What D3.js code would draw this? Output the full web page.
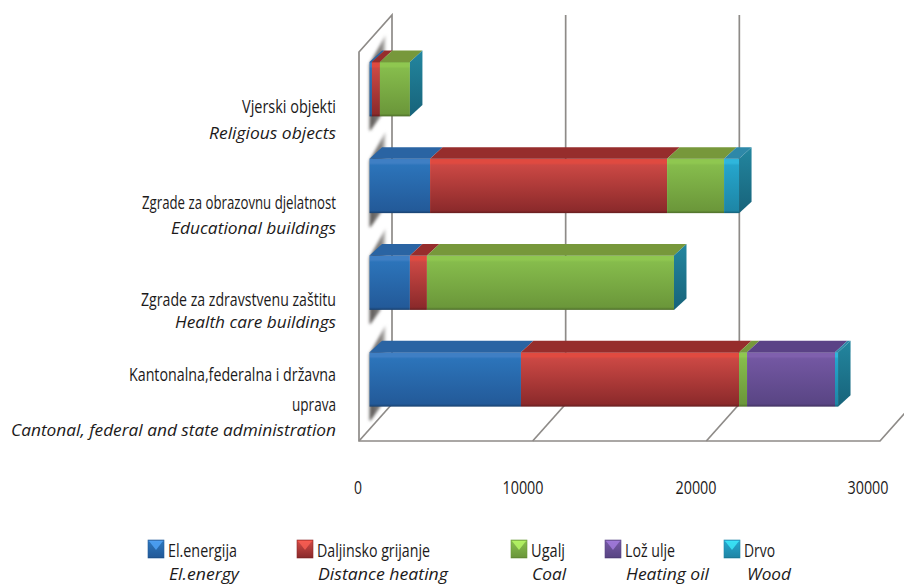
<!DOCTYPE html>
<html><head><meta charset="utf-8">
<script src="https://cdn.jsdelivr.net/npm/d3@7/dist/d3.min.js"></script>
<style>
html,body{margin:0;padding:0;background:#fff}
svg{display:block}
text{font-family:"Open Sans",sans-serif;fill:#1c1a1a}
</style></head><body>
<svg id="c" width="904" height="585"></svg>
<script>
// ---- data ----
const categories = ["Vjerski objekti","Zgrade za obrazovnu djelatnost","Zgrade za zdravstvenu zaštitu","Kantonalna,federalna i državna uprava"];
const elEnergija = [140, 3490, 2330, 8730];
const daljinsko  = [460, 13660, 980, 12570];
const ugalj      = [1730, 3285, 14240, 460];
const lozUlje    = [0, 0, 0, 5070];
const drvo       = [0, 865, 0, 175];
const seriesKeys = ["El.energija","Daljinsko grijanje","Ugalj","Lož ulje","Drvo"];
const seriesEn   = ["El.energy","Distance heating","Coal","Heating oil","Wood"];
const tickValues = [0,10000,20000,30000];
const catLines = [
  [["Vjerski objekti",0],["Religious objects",1]],
  [["Zgrade za obrazovnu djelatnost",0],["Educational buildings",1]],
  [["Zgrade za zdravstvenu zaštitu",0],["Health care buildings",1]],
  [["Kantonalna,federalna i državna",0],["uprava",0],["Cantonal, federal and state administration",1]]
];
// ---- styles ----
const faceColors = [["#3f7fc4","#2c74ba","#235a99"],["#e04a40","#cb4844","#8c2a2b"],["#8fc750","#86bc4c","#6b973a"],["#7f60ad","#7357a2","#594584"],["#2fb6dc","#25a5cc","#1e86a6"]];
const topColors  = ["#2a64a3","#962d2c","#77983b","#5a4286","#2e88a8"];
const sideTop = "#23869f", sideBot = "#17637a";
const gridColor = "#8e8b88";
const uprightSize = 18.5, italicSize = 16.5;

const svg = d3.select("#c");
const defs = svg.append("defs");
defs.append("filter").attr("id","blur").attr("filterUnits","userSpaceOnUse").attr("x",340).attr("y",0).attr("width",80).attr("height",470)
  .append("feGaussianBlur").attr("stdDeviation",1.6);
faceColors.forEach((c,i)=>{
  const g = defs.append("linearGradient").attr("id","f"+i).attr("x1",0).attr("x2",0).attr("y1",0).attr("y2",1);
  [[0,c[2]],[.015,c[0]],[.08,c[0]],[.12,c[1]],[.95,c[2]],[1,d3.color(c[2]).darker(.9)]].forEach(s=>g.append("stop").attr("offset",s[0]).attr("stop-color",s[1]));
});
const sg = defs.append("linearGradient").attr("id","side").attr("x1",0).attr("x2",0).attr("y1",0).attr("y2",1);
sg.append("stop").attr("offset",0).attr("stop-color",sideTop);
sg.append("stop").attr("offset",1).attr("stop-color",sideBot);
const shg = defs.append("linearGradient").attr("id","shade").attr("x1",0).attr("x2",1).attr("y1",0).attr("y2",0);
shg.append("stop").attr("offset",0).attr("stop-color","#5a5755").attr("stop-opacity",1);
shg.append("stop").attr("offset",.75).attr("stop-color","#7a7775").attr("stop-opacity",.9);
shg.append("stop").attr("offset",1).attr("stop-color","#a09e9c").attr("stop-opacity",.5);

// scales
const xBar   = d3.scaleLinear().domain([0,30000]).range([369.5,890]);
const xFront = d3.scaleLinear().domain([0,30000]).range([359,880]);
const xBack  = d3.scaleLinear().domain([0,30000]).range([392,913]);
const xLabel = d3.scaleLinear().domain(tickValues).range([358,523,696,868]);
const y = d3.scaleBand().domain(categories).range([40.8,427.8]).paddingInner(.4375).paddingOuter(.21875);
const floorY = 441, backFloorY = 404, wallTop = 15, frontTop = 52;
const depth = {dx:12.5, dy:11.5};

// bar shadows on the side wall
svg.append("g").attr("filter","url(#blur)").selectAll("path").data(categories).join("path")
  .attr("fill","url(#shade)")
  .attr("d",c=>{const t=y(c),b=t+y.bandwidth(),x=xBar(0);
    return `M${x},${t+2}L${x+16},${t-27}L${x+16},${t}L${x+11},${b}L${x+1},${b+14}L${x},${b+14}Z`;});

// walls / grid
const grid = svg.append("g").attr("fill","none").attr("stroke",gridColor).attr("stroke-width",1.7);
tickValues.slice(1,3).forEach(t=>{
  grid.append("line").attr("x1",xBack(t)).attr("x2",xBack(t)).attr("y1",wallTop).attr("y2",backFloorY);
});
tickValues.slice(0,3).forEach(t=>{
  grid.append("line").attr("x1",xFront(t)).attr("y1",floorY).attr("x2",xBack(t)).attr("y2",backFloorY);
});
grid.append("path").attr("stroke-linejoin","miter")
  .attr("d",`M${xBack(0)},${backFloorY}L${xBack(0)},${wallTop}L${xFront(0)},${frontTop}L${xFront(0)},${floorY}L${xFront(30000)},${floorY}L${xFront(30000)+33},${backFloorY}`);

// stacked data
const table = categories.map((c,i)=>({cat:c,[seriesKeys[0]]:elEnergija[i],[seriesKeys[1]]:daljinsko[i],[seriesKeys[2]]:ugalj[i],[seriesKeys[3]]:lozUlje[i],[seriesKeys[4]]:drvo[i]}));
const stacked = d3.stack().keys(seriesKeys)(table);

// bars
const bars = svg.append("g");
const poly = p=>"M"+p.map(q=>q.join(",")).join("L")+"Z";
stacked.forEach((s,si)=>{
  const g = bars.append("g");
  g.selectAll("path").data(s.filter(d=>d[1]>d[0])).join("path").attr("fill",topColors[si])
   .attr("d",d=>{const t=y(d.data.cat),a=xBar(d[0]),b=xBar(d[1]);
     return poly([[a,t],[a+depth.dx,t-depth.dy],[b+depth.dx,t-depth.dy],[b,t]]);});
});
stacked.forEach((s,si)=>{
  bars.append("g").selectAll("rect").data(s.filter(d=>d[1]>d[0])).join("rect").attr("fill",`url(#f${si})`)
   .attr("x",d=>xBar(d[0])).attr("width",d=>xBar(d[1])-xBar(d[0]))
   .attr("y",d=>y(d.data.cat)).attr("height",y.bandwidth());
});
bars.append("g").selectAll("path").data(stacked[4]).join("path").attr("fill","url(#side)")
  .attr("d",d=>{const t=y(d.data.cat),h=y.bandwidth(),b=xBar(d[1]);
    return poly([[b,t],[b+depth.dx,t-depth.dy],[b+depth.dx,t+h-depth.dy],[b,t+h]]);});

// axis labels
svg.append("g").selectAll("text").data(tickValues).join("text")
  .attr("x",d=>xLabel(d)).attr("y",494).attr("text-anchor","middle").attr("font-size",uprightSize)
  .attr("textLength",d=>d?41:8).attr("lengthAdjust","spacingAndGlyphs").text(d=>d);

// category labels
const lineY = [[113,139],[209,234],[306,328],[381,411,436]];
const lineW = [[94,127],[194,165],[195,161],[207,44,325]];
catLines.forEach((ls,i)=>ls.forEach((l,j)=>{
  svg.append("text").attr("x",336).attr("y",lineY[i][j]).attr("text-anchor","end")
    .attr("font-size",l[1]?italicSize:uprightSize).attr("font-style",l[1]?"italic":"normal")
    .attr("textLength",lineW[i][j]).attr("lengthAdjust","spacingAndGlyphs").text(l[0]);
}));

// legend
const swX = [148,297,511,605,724], txX=[168,317,531,625,744], enX=[169,318,532,626,747];
const kW=[69,113,34,50,31], eW=[70,130,34,83,44];
seriesKeys.forEach((k,i)=>{
  const g=svg.append("g");
  g.append("rect").attr("x",swX[i]).attr("y",540).attr("width",16).attr("height",18).attr("fill",`url(#f${i})`).attr("stroke",faceColors[i][2]).attr("stroke-width",.6);
  g.append("path").attr("d",poly([[swX[i]+1,541],[swX[i]+15,541],[swX[i]+8,550]])).attr("fill",d3.color(faceColors[i][0]).brighter(.8)).attr("opacity",.75);
  g.append("text").attr("x",txX[i]).attr("y",557).attr("font-size",uprightSize).attr("textLength",kW[i]).attr("lengthAdjust","spacingAndGlyphs").text(k);
  g.append("text").attr("x",enX[i]).attr("y",580).attr("font-size",italicSize).attr("font-style","italic").attr("textLength",eW[i]).attr("lengthAdjust","spacingAndGlyphs").text(seriesEn[i]);
});
</script>
</body></html>
